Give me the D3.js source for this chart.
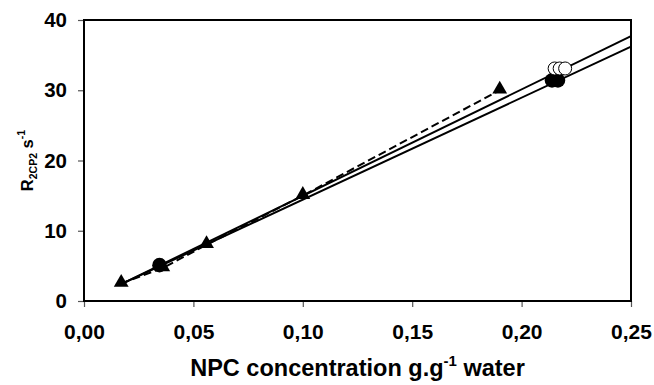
<!DOCTYPE html>
<html>
<head>
<meta charset="utf-8">
<script src="https://cdn.jsdelivr.net/npm/d3@7"></script>
<style>
  body { margin: 0; background: #fff; }
  svg { display: block; font-family: "Liberation Sans", Arial, sans-serif; }
</style>
</head>
<body>
<div class="container"></div>
<script>
// triangles (joined by the dashed line)
const triX = [0.017, 0.036, 0.056, 0.100, 0.190];
const triY = [2.5, 4.7, 8.0, 15.0, 30.0];
// filled circles
const blackX = [0.0345, 0.2139, 0.2166];
const blackY = [5.1, 31.4, 31.4];
// open circles
const openX = [0.2151, 0.2174, 0.2199];
const openY = [33.1, 33.1, 33.1];
// linear fits (start / end)
const fitX = [0.017, 0.25];
const fitOpenY = [2.4, 37.7];
const fitBlackY = [2.4, 36.2];

const xTicks = [0, 0.05, 0.10, 0.15, 0.20, 0.25];
const yTicks = [0, 10, 20, 30, 40];

const WIDTH = 654, HEIGHT = 385;
const MARGIN = { top: 20, right: 23, bottom: 84, left: 84 };

const xScale = d3.scaleLinear().domain([0, 0.25]).range([MARGIN.left, WIDTH - MARGIN.right]);
const yScale = d3.scaleLinear().domain([0, 40]).range([HEIGHT - MARGIN.bottom, MARGIN.top]);

const svg = d3.select(".container")
  .append("svg")
  .attr("viewBox", [0, 0, WIDTH, HEIGHT])
  .attr("width", WIDTH)
  .attr("height", HEIGHT);

// axes
const xAxis = (g) => g
  .attr("transform", `translate(0, ${yScale(0)})`)
  .call(d3.axisBottom(xScale).tickValues(xTicks).tickSizeOuter(0).tickSize(6).tickPadding(17)
    .tickFormat((d) => d3.format(".2f")(d).replace(".", ",")));
const yAxis = (g) => g
  .attr("transform", `translate(${xScale(0)}, 0)`)
  .call(d3.axisLeft(yScale).tickValues(yTicks).tickSizeOuter(0).tickSize(6).tickPadding(11));

svg.append("g").call(xAxis)
  .call((g) => g.select(".domain").remove())
  .call((g) => g.selectAll(".tick line").attr("stroke", "#555").attr("stroke-width", 1.2))
  .call((g) => g.selectAll(".tick text").attr("font-size", 21).attr("font-weight", "bold").attr("fill", "#000"));
svg.append("g").call(yAxis)
  .call((g) => g.select(".domain").remove())
  .call((g) => g.selectAll(".tick line").attr("stroke", "#555").attr("stroke-width", 1.2))
  .call((g) => g.selectAll(".tick text").attr("font-size", 20.5).attr("font-weight", "bold").attr("fill", "#000"));

// plot frame
svg.append("rect")
  .attr("x", xScale(0))
  .attr("y", yScale(40))
  .attr("width", xScale(0.25) - xScale(0))
  .attr("height", yScale(0) - yScale(40))
  .attr("fill", "none")
  .attr("stroke", "#000")
  .attr("stroke-width", 2);

// fit lines
const line = d3.line().x((d) => xScale(d[0])).y((d) => yScale(d[1]));
[fitOpenY, fitBlackY].forEach((ys) => {
  svg.append("path")
    .attr("d", line(fitX.map((x, i) => [x, ys[i]])))
    .attr("fill", "none")
    .attr("stroke", "#000")
    .attr("stroke-width", 2);
});
svg.append("path")
  .attr("d", line(triX.map((x, i) => [x, triY[i]])))
  .attr("fill", "none")
  .attr("stroke", "#000")
  .attr("stroke-width", 2)
  .attr("stroke-dasharray", "8,4");

// markers
const tri = d3.symbol().type(d3.symbolTriangle).size(95);
svg.append("g")
  .selectAll("path")
  .data(triX.map((x, i) => [x, triY[i]]))
  .join("path")
  .attr("d", tri)
  .attr("transform", (d) => `translate(${xScale(d[0])}, ${yScale(d[1]) - 1})`)
  .attr("fill", "#000");

svg.append("g")
  .selectAll("circle")
  .data(blackX.map((x, i) => [x, blackY[i]]))
  .join("circle")
  .attr("cx", (d) => xScale(d[0]))
  .attr("cy", (d) => yScale(d[1]))
  .attr("r", 7.3)
  .attr("fill", "#000");

svg.append("g")
  .selectAll("circle")
  .data(openX.map((x, i) => [x, openY[i]]))
  .join("circle")
  .attr("cx", (d) => xScale(d[0]))
  .attr("cy", (d) => yScale(d[1]))
  .attr("r", 6.5)
  .attr("fill", "#fff")
  .attr("stroke", "#000")
  .attr("stroke-width", 1);

// axis titles
const xt = svg.append("text")
  .attr("x", (xScale(0) + xScale(0.25)) / 2)
  .attr("y", 376)
  .attr("text-anchor", "middle")
  .attr("font-size", 23.5)
  .attr("font-weight", "bold");
xt.append("tspan").text("NPC concentration g.g");
xt.append("tspan").attr("font-size", 15).attr("dy", -10).text("-1");
xt.append("tspan").attr("dy", 10).text(" water");

const yt = svg.append("text")
  .attr("transform", `translate(32.5, ${(yScale(0) + yScale(40)) / 2}) rotate(-90)`)
  .attr("text-anchor", "middle")
  .attr("font-size", 16.5)
  .attr("font-weight", "bold")
  .attr("fill", "#000");
yt.append("tspan").text("R");
yt.append("tspan").attr("font-size", 10.5).attr("dy", 4).text("2CP2");
yt.append("tspan").attr("dy", -4).text(" s");
yt.append("tspan").attr("font-size", 10.5).attr("dy", -8).text("-1");
</script>
</body>
</html>
